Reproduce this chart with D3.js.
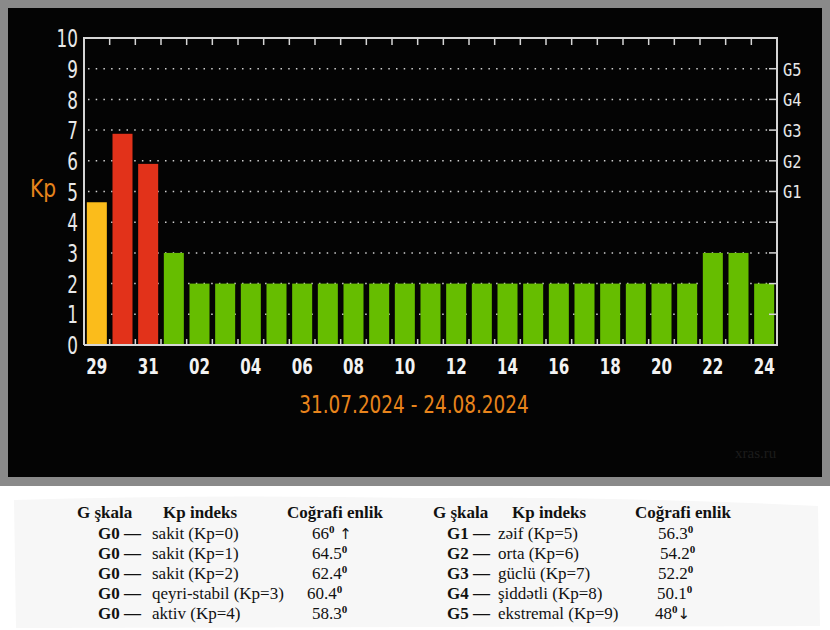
<!DOCTYPE html>
<html><head><meta charset="utf-8">
<script src="https://cdnjs.cloudflare.com/ajax/libs/d3/7.8.5/d3.min.js"></script>
<style>
body{margin:0;background:#fff;}
svg{display:block;}
</style></head>
<body>
<script>
// ---- data ----
const days = ["29","30","31","01","02","03","04","05","06","07","08","09","10","11","12","13","14","15","16","17","18","19","20","21","22","23","24"];
const kp = [4.65,6.88,5.9,3,2,2,2,2,2,2,2,2,2,2,2,2,2,2,2,2,2,2,2,2,3,3,2];
const yTicks = [0,1,2,3,4,5,6,7,8,9,10];
const gLabels = ["G1","G2","G3","G4","G5"];
const gLevels = [5,6,7,8,9];
const dateRange = "31.07.2024 - 24.08.2024";
const watermark = "xras.ru";
const tableHeaders = ["G şkala","Kp indeks","Coğrafi enlik"];
const leftG = ["G0","G0","G0","G0","G0"];
const leftDesc = ["sakit (Kp=0)","sakit (Kp=1)","sakit (Kp=2)","qeyri-stabil (Kp=3)","aktiv (Kp=4)"];
const leftLat = ["66","64.5","62.4","60.4","58.3"];
const leftArrow = [" ↑","","","",""];
const rightG = ["G1","G2","G3","G4","G5"];
const rightDesc = ["zəif (Kp=5)","orta (Kp=6)","güclü (Kp=7)","şiddətli (Kp=8)","ekstremal (Kp=9)"];
const rightLat = ["56.3","54.2","52.2","50.1","48"];
const rightArrow = ["","","","","↓"];

const W = 830, H = 630;
const svg = d3.select("body").append("svg").attr("width",W).attr("height",H);
const narrow = "'DejaVu Sans Condensed','DejaVu Sans',sans-serif";
const serif = "'Liberation Serif','Times New Roman',serif";

function condense(sel, f){
  sel.attr("transform", function(){
    const x = +this.getAttribute("x")||0, y = +this.getAttribute("y")||0;
    return `translate(${x},${y}) scale(${f},1) translate(${-x},${-y})`;
  });
}

// frames
svg.append("rect").attr("width",W).attr("height",H).attr("fill","#fff");
svg.append("path").attr("d","M14,500 Q200,494 420,498 Q620,496 818,506 L820,626 L16,628 Z").attr("fill","#f7f7f7");
svg.append("rect").attr("x",0).attr("y",0).attr("width",W).attr("height",486).attr("fill","#8a8a8a");
svg.append("rect").attr("x",8).attr("y",8).attr("width",814).attr("height",469).attr("fill","#040404");

const L=84,R=777,T=38,B=345;
const x = d3.scaleBand().domain(d3.range(days.length)).range([L,R]).paddingInner(0.22).paddingOuter(0.11);
const y = d3.scaleLinear().domain([0,10]).range([B,T]);
const step = x.step(), gap = step*0.22;

// gridlines (dotted)
svg.append("g").selectAll("line").data(yTicks.filter(v=>v>0&&v<10)).join("line")
  .attr("x1",L+4).attr("x2",R-8).attr("y1",d=>y(d)).attr("y2",d=>y(d))
  .attr("stroke","#cfcfcf").attr("stroke-width",1.5).attr("stroke-dasharray","1.5,6.2");

// bars
const color = v => v>=5 ? "#e2321a" : (v>=4 ? "#fbbc1b" : "#66bd00");
svg.append("g").selectAll("rect").data(kp).join("rect")
  .attr("x",(d,i)=>x(i)).attr("width",x.bandwidth())
  .attr("y",d=>y(d)).attr("height",d=>B-y(d))
  .attr("fill",d=>color(d));

// frame lines
const ax = svg.append("g").attr("stroke","#d6d6d6").attr("stroke-width",2).attr("fill","none");
ax.append("path").attr("d",`M${L},${B}V${T}H${R}V${B}H${L}`);

// boundary ticks (top & bottom)
const bounds = d3.range(1,days.length).map(i=>x(i)-gap/2);
svg.append("g").selectAll("line").data(bounds).join("line")
  .attr("x1",d=>d).attr("x2",d=>d).attr("y1",T).attr("y2",T+7)
  .attr("stroke","#d6d6d6").attr("stroke-width",1.5);
svg.append("g").selectAll("line").data(bounds).join("line")
  .attr("x1",d=>d).attr("x2",d=>d).attr("y1",B).attr("y2",B-6)
  .attr("stroke","#d6d6d6").attr("stroke-width",1.5);
// right ticks
svg.append("g").selectAll("line").data(yTicks.filter(v=>v>0&&v<10)).join("line")
  .attr("x1",R-8).attr("x2",R).attr("y1",d=>y(d)).attr("y2",d=>y(d))
  .attr("stroke","#d6d6d6").attr("stroke-width",1.5);

// left axis labels
const gl = svg.append("g").attr("transform",`translate(${L},0)`)
  .call(d3.axisLeft(y).tickValues(yTicks).tickSize(0).tickPadding(6).tickFormat(d3.format("d")));
gl.select(".domain").remove();
gl.selectAll("text").attr("fill","#e8e8e8").attr("font-family",narrow).attr("font-size",24).attr("dy","0.36em");
condense(gl.selectAll("text"),0.78);

// right G labels
const gr = svg.append("g").attr("transform",`translate(${R},0)`)
  .call(d3.axisRight(y).tickValues(gLevels).tickSize(0).tickPadding(6).tickFormat((d,i)=>gLabels[i]));
gr.select(".domain").remove();
gr.selectAll("text").attr("fill","#e8e8e8").attr("font-family","'DejaVu Sans Mono',monospace").attr("font-size",18).attr("dy","0.36em");
condense(gr.selectAll("text"),0.85);

// bottom labels
const gb = svg.append("g").attr("transform",`translate(0,${B})`)
  .call(d3.axisBottom(x).tickSize(0).tickPadding(14).tickFormat((d,i)=> i%2===0 ? days[i] : ""));
gb.select(".domain").remove();
gb.selectAll("text").attr("fill","#f2f2f2").attr("font-family",narrow).attr("font-weight","bold").attr("font-size",21);
condense(gb.selectAll("text"),0.8);

// Kp label
const kpl = svg.append("text").attr("x",30).attr("y",197).text("Kp")
  .attr("fill","#e8841c").attr("font-family",narrow).attr("font-size",25);
condense(kpl,0.9);

// date range
const dr = svg.append("text").attr("x",414).attr("y",413).attr("text-anchor","middle").text(dateRange)
  .attr("fill","#e8841c").attr("font-family",narrow).attr("font-size",25);
condense(dr,0.82);

// watermark
svg.append("text").attr("x",735).attr("y",458).text(watermark)
  .attr("fill","#1c1c1c").attr("font-family",serif).attr("font-size",15);

// table
function table(x0, hdrX, gs, desc, lat, arr, descX, latX){
  const g = svg.append("g").attr("font-family",serif).attr("font-size",17).attr("fill","#111");
  tableHeaders.forEach((h,i)=> g.append("text").attr("x",hdrX[i]).attr("y",518).attr("font-weight","bold").text(h));
  gs.forEach((gg,i)=>{
    const yy = 539 + i*20;
    g.append("text").attr("x",x0).attr("y",yy).attr("font-weight","bold").text(gg+" —");
    g.append("text").attr("x",descX).attr("y",yy).text(desc[i]);
    const t = g.append("text").attr("x",latX[i]).attr("y",yy).text(lat[i]);
    t.append("tspan").attr("font-size",11).attr("font-weight","bold").attr("dy",-6).text("0");
    if(arr[i]) t.append("tspan").attr("dy",6).attr("font-family","'DejaVu Sans',sans-serif").attr("font-size",15).text(arr[i]);
  });
}
table(98,[77,163,287],leftG,leftDesc,leftLat,leftArrow,152,[312,312,312,307,312]);
table(447,[433,512,635],rightG,rightDesc,rightLat,rightArrow,498,[658,660,658,657,655]);
</script>
</body></html>
